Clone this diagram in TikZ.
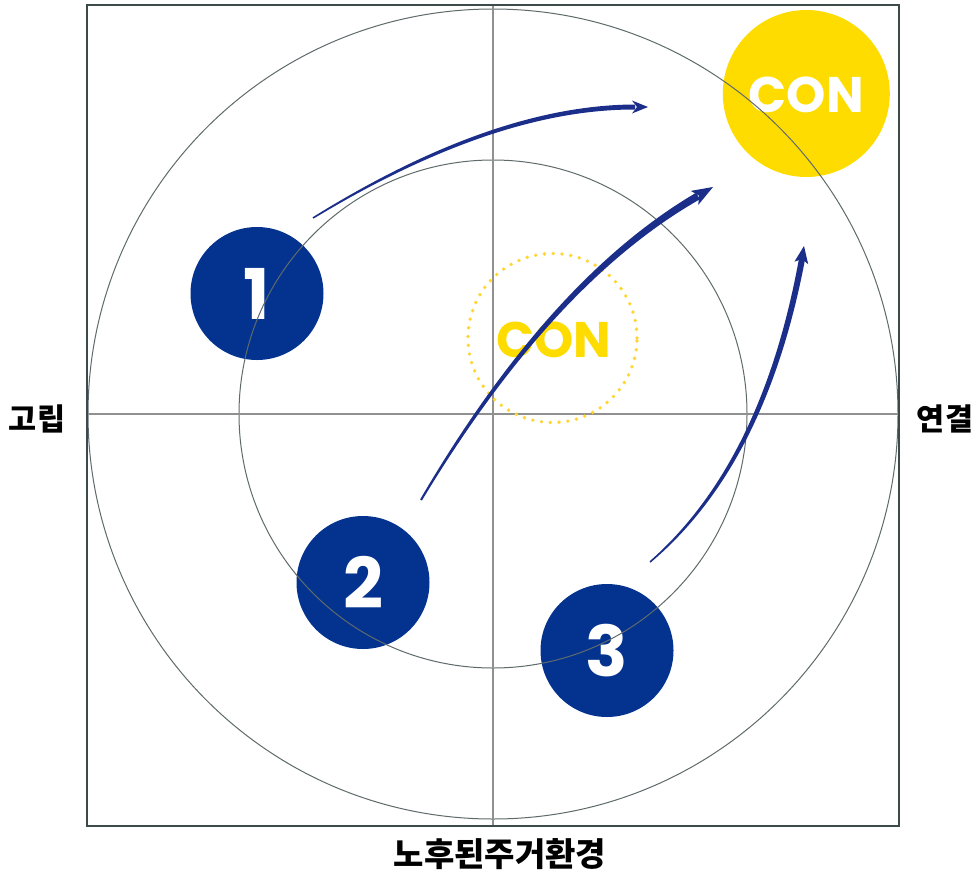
\documentclass[tikz,border=0pt]{standalone}
\usepackage{fontspec}
\newfontfamily\kr{Noto Sans CJK KR}
\newfontfamily\pop{Poppins}
\definecolor{navy}{HTML}{04338F}
\definecolor{arrowblue}{HTML}{1B2F8A}
\definecolor{conyellow}{HTML}{FFDC00}
\definecolor{dotyellow}{HTML}{FFD633}
\definecolor{ringgray}{HTML}{5F6B6B}
\definecolor{axisgray}{HTML}{909090}
\definecolor{framegray}{HTML}{3D4A4A}
\begin{document}
\begin{tikzpicture}[x=1pt,y=-1pt,
  numdot/.style={circle,fill=navy,minimum size=133pt,inner sep=0pt,text=white,
    font=\pop\bfseries\fontsize{70}{70}\selectfont},
  context/.style={inner sep=0pt,font=\pop\bfseries\fontsize{50}{50}\selectfont},
  ring/.style={draw=ringgray,line width=1pt},
  axis/.style={draw=axisgray,line width=2pt},
  label/.style={inner sep=0pt,font=\kr\bfseries\fontsize{30.5}{30.5}\selectfont},
  biglabel/.style={inner sep=0pt,font=\kr\bfseries\fontsize{33}{33}\selectfont},
  shaft/.style={fill=arrowblue}]
\useasboundingbox (0,0) rectangle (977,873);
\fill[white] (0,0) rectangle (977,873);
\coordinate (o) at (493,414);
% yellow target circle
\node[circle,fill=conyellow,minimum size=167pt,inner sep=0pt] (con) at (806.3,93.5) {};
\node[context,text=white] (contop) at (806.3,95) {CON};
% numbered circles
\node[numdot] (n1) at (257,293.5) {1};
\node[numdot] (n2) at (363,582.5) {2};
\node[numdot] (n3) at (607,650.5) {3};
% rings
\draw[ring] (o) circle (405);
\draw[ring] (o) circle (254);
% axes
\draw[axis] (493,5) -- (493,826);
\draw[axis] (87,414) -- (899,414);
% frame
\draw[framegray,line width=1.2pt] (87,5) rectangle (899,826);
% dotted inner CON
\node[circle,draw=dotyellow,line width=3.8pt,dash pattern=on 0pt off 8.8pt,line cap=round,
  minimum size=169pt,inner sep=0pt] (conin) at (552.5,338) {};
\node[context,text=conyellow] (conmid) at (554,340) {CON};
% labels
\node[label] (l1) at (37,419) {고립};
\node[label] (l2) at (945,419) {연결};
\node[biglabel] (l3) at (500,854) {노후된주거환경};
% arrow 1
\coordinate (a1s) at (313,218);
\coordinate (a1n) at (637,107);
\coordinate (a1t) at (648,107);
\fill[shaft] (312.6,217.3) .. controls (433.1,142.4) and (540.5,104.8) .. (635,104.5)
  -- (635,109.5) .. controls (541.5,109.2) and (434.3,145.6) .. (313.4,218.7) -- cycle;
\fill[shaft] (a1t) -- (632,100.5) -- (a1n) -- (632,113.5) -- cycle;
% arrow 2
\coordinate (a2s) at (421,500);
\coordinate (a2n) at (699,195.5);
\coordinate (a2t) at (713,187);
\fill[shaft] (420.1,499.5) .. controls (506,352.6) and (598,250.3) .. (696.2,192.7)
  -- (699.8,199.3) .. controls (602,255) and (509.4,355.4) .. (421.9,500.5) -- cycle;
\fill[shaft] (a2t) -- (690.7,190.9) -- (a2n) -- (698.3,204.9) -- cycle;
% arrow 3
\coordinate (a3s) at (650,562);
\coordinate (a3n) at (802,259);
\coordinate (a3t) at (804,246);
\fill[shaft] (649.5,561.4) .. controls (724.4,495.7) and (774.2,394.8) .. (799,258.5)
  -- (805,259.5) .. controls (779.1,396.6) and (727.6,497.6) .. (650.5,562.6) -- cycle;
\fill[shaft] (a3t) -- (794.4,261.7) -- (a3n) -- (808.2,264.3) -- cycle;
\end{tikzpicture}
\end{document}
